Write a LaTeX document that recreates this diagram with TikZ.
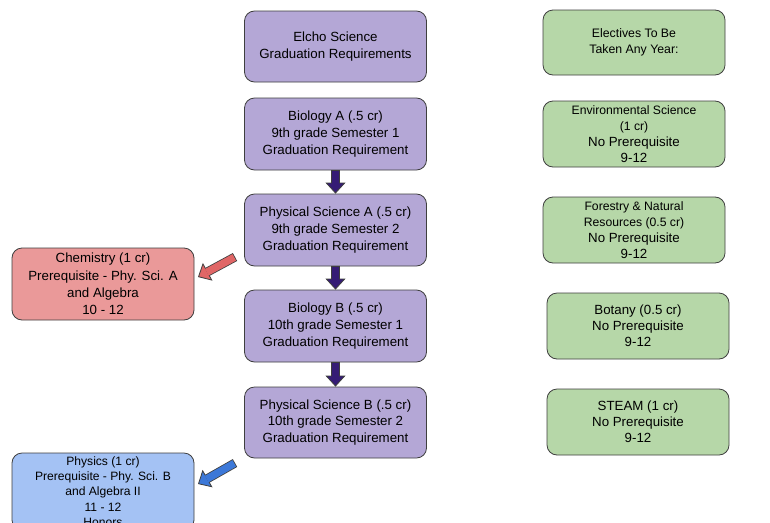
\documentclass[tikz,border=0pt]{standalone}
\usepackage{fontspec}
\setmainfont{Liberation Sans}
\usetikzlibrary{arrows.meta}
\definecolor{purplebox}{HTML}{B4A7D6}
\definecolor{greenbox}{HTML}{B6D7A8}
\definecolor{redbox}{HTML}{EA9999}
\definecolor{bluebox}{HTML}{A4C2F4}
\definecolor{purplearrow}{HTML}{351C75}
\definecolor{redarrow}{HTML}{E06666}
\definecolor{bluearrow}{HTML}{3C78D8}
\definecolor{edgegray}{HTML}{3F3F3F}
\newcommand{\drawBlockArrow}[3]{
\draw [edgegray,line width=0.8pt,-{Triangle[length=11pt,width=20pt,fill=#3]}] (#1) -- (#2);
\draw [edgegray,line width=9pt,shorten >=10.8pt] (#1) -- (#2);
\draw [#3,line width=7.4pt,shorten >=10pt,shorten <=0.8pt] (#1) -- (#2);
}
\newcommand{\smalltext}[1]{{\fontsize{12.2}{16}\selectfont #1}}

\begin{document}
\begin{tikzpicture}[x=1pt,y=-1pt,
  box/.style={draw=edgegray,line width=0.8pt,rounded corners=10pt,align=center,
    minimum width=182pt,inner sep=2pt,font=\fontsize{13.3}{16.8}\selectfont},
  reqbox/.style={box,fill=purplebox,minimum height=72pt},
  elecbox/.style={box,fill=greenbox,minimum height=66pt,font=\fontsize{13.3}{16}\selectfont}]
\useasboundingbox (0,0) rectangle (770,522);
\clip (0,0) rectangle (770,522);
\fill [white] (0,0) rectangle (770,522);
%
\node [reqbox,minimum height=71pt] (title) at (335.5,46.5) {Elcho Science\\Graduation Requirements};
\node [reqbox] (bioA) at (335.5,134) {Biology A (.5 cr)\\9th grade Semester 1\\Graduation Requirement};
\node [reqbox] (physA) at (335.5,230) {Physical Science A (.5 cr)\\9th grade Semester 2\\Graduation Requirement};
\node [reqbox] (bioB) at (335.5,326) {Biology B (.5 cr)\\10th grade Semester 1\\Graduation Requirement};
\node [reqbox,minimum height=71pt] (physB) at (335.5,422.5) {Physical Science B (.5 cr)\\10th grade Semester 2\\Graduation Requirement};
%
\node [box,fill=redbox,minimum height=72pt,font=\fontsize{13.3}{17.3}\selectfont] (chem) at (103,284) {Chemistry (1 cr)\\Prerequisite - Phy. Sci. A\\and Algebra\\10 - 12};
\node [box,fill=bluebox,minimum height=77pt,font=\fontsize{12.1}{15.3}\selectfont] (phys) at (103,491.5) {Physics (1 cr)\\Prerequisite - Phy. Sci. B\\and Algebra II\\11 - 12\\Honors};
%
\node [elecbox,minimum height=65pt,font=\fontsize{12.3}{16}\selectfont] (elec) at (634,42.5) {Electives To Be\\Taken Any Year:};
\node [elecbox] (envsci) at (634,134) {\smalltext{Environmental Science}\\\smalltext{(1 cr)}\\No Prerequisite\\9-12};
\node [elecbox] (forestry) at (634,230) {\smalltext{Forestry \& Natural}\\\smalltext{Resources (0.5 cr)}\\No Prerequisite\\9-12};
\node [elecbox] (botany) at (638,326) {Botany (0.5 cr)\\No Prerequisite\\9-12};
\node [elecbox] (steam) at (638,422) {STEAM (1 cr)\\No Prerequisite\\9-12};
%
\drawBlockArrow{bioA.south}{physA.north}{purplearrow}
\drawBlockArrow{physA.south}{bioB.north}{purplearrow}
\drawBlockArrow{bioB.south}{physB.north}{purplearrow}
%
\coordinate (chemtail) at (235,257);
\coordinate (chemtip) at (198,277);
\coordinate (physstail) at (235,463);
\coordinate (physstip) at (198,484);
\drawBlockArrow{chemtail}{chemtip}{redarrow}
\drawBlockArrow{physstail}{physstip}{bluearrow}
\end{tikzpicture}
\end{document}
